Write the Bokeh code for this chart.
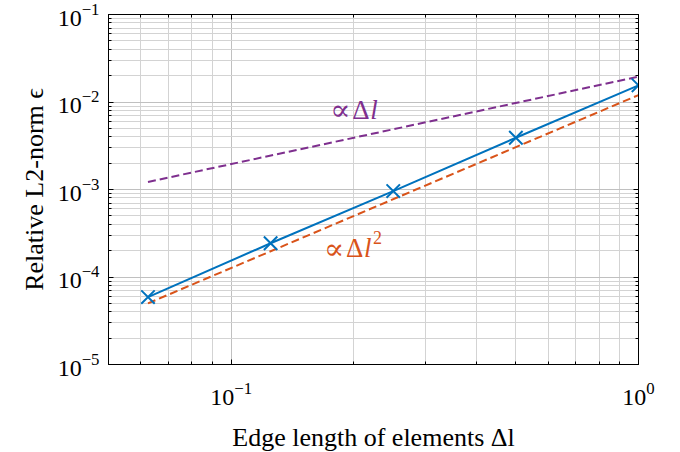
from bokeh.plotting import figure
from bokeh.models import (LogAxis, Label, CustomJSTickFormatter, Range1d,
                          FixedTicker, LogTickFormatter)
from bokeh.embed import file_html
from bokeh.resources import INLINE

# ---- data ----
edge_length = [0.0625, 0.125, 0.25, 0.5, 1.0]
rel_error = [5.9e-5, 2.43e-4, 9.6e-4, 3.9e-3, 1.55e-2]

ref_lin_x = [0.0625, 1.0]       # ∝ Δl
ref_lin_y = [1.22e-3, 1.95e-2]
ref_quad_x = [0.0625, 1.0]      # ∝ Δl²
ref_quad_y = [5.0e-5, 1.2e-2]

x_limits = (0.05, 1.0)
y_limits = (1e-5, 1e-1)

x_major = [0.1, 1.0]
x_minor = [0.05, 0.06, 0.07, 0.08, 0.09, 0.2, 0.3, 0.4, 0.5, 0.6, 0.7, 0.8, 0.9]
y_major = [1e-5, 1e-4, 1e-3, 1e-2, 1e-1]
y_minor = [m * 10.0 ** e for e in (-5, -4, -3, -2) for m in range(2, 10)]

x_label = "Edge length of elements Δl"
y_label = "Relative L2-norm ϵ"

BLUE = "#0072BD"
ORANGE = "#D95319"
PURPLE = "#7E2F8E"
FONT = "Liberation Serif"

p = figure(x_axis_type="log", y_axis_type="log",
           x_range=Range1d(*x_limits), y_range=Range1d(*y_limits),
           frame_width=530, frame_height=350,
           min_border_left=108, min_border_right=20,
           min_border_top=14, min_border_bottom=88,
           output_backend="svg", toolbar_location=None,
           background_fill_color="white", border_fill_color="white")

p.outline_line_color = "black"
p.outline_line_width = 1

xt = FixedTicker(ticks=x_major, minor_ticks=x_minor)
yt = FixedTicker(ticks=y_major, minor_ticks=y_minor)

bottom = p.below[0]
left = p.left[0]
bottom.ticker = xt
left.ticker = yt
bottom.formatter = LogTickFormatter()
left.formatter = LogTickFormatter()
p.xgrid.ticker = xt
p.ygrid.ticker = yt

for g in (p.xgrid, p.ygrid):
    g.grid_line_color = "#c0c0c0"
    g.grid_line_width = 1
    g.minor_grid_line_color = "#d3d3d3"
    g.minor_grid_line_width = 1

# extra axes on top/right with ticks only
top = LogAxis(ticker=xt, formatter=CustomJSTickFormatter(code="return ''"))
right = LogAxis(ticker=yt, formatter=CustomJSTickFormatter(code="return ''"))
p.add_layout(top, "above")
p.add_layout(right, "right")

for ax in [bottom, left, top, right]:
    ax.axis_line_color = "black"
    ax.major_tick_line_color = "black"
    ax.minor_tick_line_color = "black"
    ax.major_tick_in = 5
    ax.major_tick_out = 0
    ax.minor_tick_in = 3
    ax.minor_tick_out = 0
    ax.major_label_text_font = FONT
    ax.major_label_text_font_size = "24px"
    ax.major_label_text_color = "black"

bottom.axis_label = x_label
left.axis_label = y_label
for ax in [bottom, left]:
    ax.axis_label_text_font = FONT
    ax.axis_label_text_font_size = "26px"
    ax.axis_label_text_font_style = "normal"
    ax.axis_label_text_color = "black"
bottom.major_label_standoff = 18
bottom.axis_label_standoff = 15
left.major_label_standoff = 9
left.axis_label_standoff = 6
top.major_label_standoff = 0
right.major_label_standoff = 0

# reference slopes
p.line(ref_lin_x, ref_lin_y, line_color=PURPLE, line_width=2, line_dash="8 4")
p.line(ref_quad_x, ref_quad_y, line_color=ORANGE, line_width=2, line_dash="8 4")

# measured error
p.line(edge_length, rel_error, line_color=BLUE, line_width=2)
p.scatter(edge_length, rel_error, marker="x", size=19, line_color=BLUE, line_width=2)

# annotations
lab_lin = (0.175, 8.2e-3)
lab_quad = (0.169, 2.12e-4)

def add_label(pos, color, sup=None):
    p.add_layout(Label(x=pos[0], y=pos[1], text="∝", text_font="DejaVu Serif",
                       text_font_size="30px", text_color=color,
                       text_baseline="alphabetic", text_align="left"))
    p.add_layout(Label(x=pos[0], y=pos[1], x_offset=22, text="Δ", text_font=FONT,
                       text_font_size="27px", text_color=color,
                       text_baseline="alphabetic", text_align="left"))
    p.add_layout(Label(x=pos[0], y=pos[1], x_offset=40, text="l", text_font=FONT,
                       text_font_size="27px", text_font_style="italic",
                       text_color=color, text_baseline="alphabetic", text_align="left"))
    if sup:
        p.add_layout(Label(x=pos[0], y=pos[1], x_offset=49, y_offset=11, text=sup,
                           text_font=FONT, text_font_size="18px", text_color=color,
                           text_baseline="alphabetic", text_align="left"))

add_label(lab_lin, PURPLE)
add_label(lab_quad, ORANGE, "2")

open("out.html", "w").write(file_html(p, INLINE))
